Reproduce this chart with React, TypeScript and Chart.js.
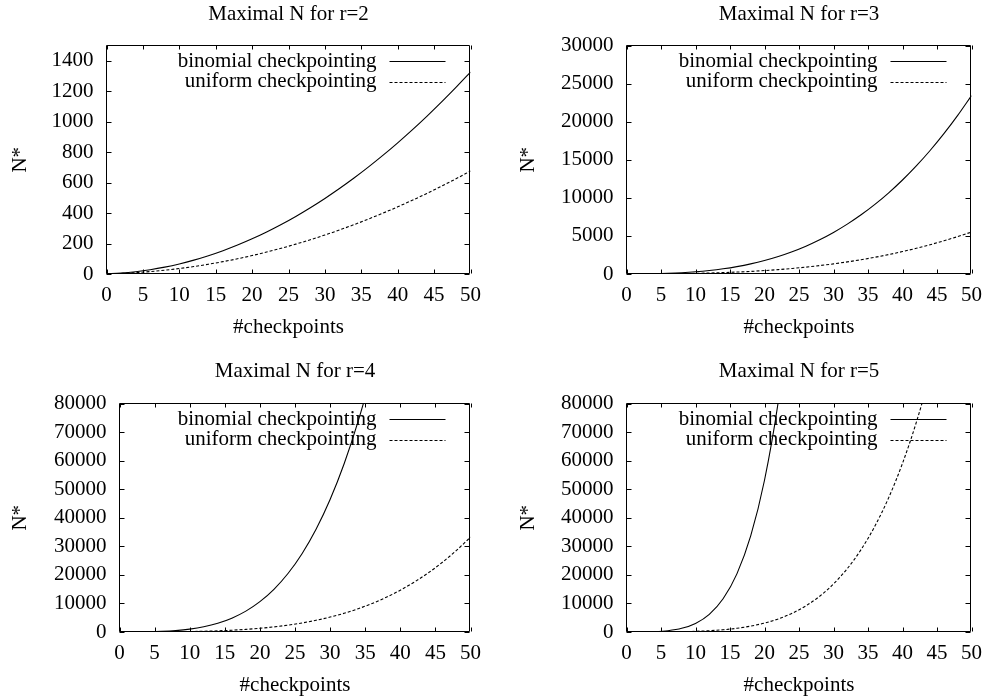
import React, { useEffect, useRef } from 'react';
import { Chart, registerables } from 'chart.js';

Chart.register(...registerables);

// ---------------- data ----------------
const checkpoints = [0, 2, 4, 6, 8, 10, 12, 14, 16, 18, 20, 22, 24, 26, 28, 30, 32, 34, 36, 38, 40, 42, 44, 46, 48, 50];

const binomialR2 = [1, 6, 15, 28, 45, 66, 91, 120, 153, 190, 231, 276, 325, 378, 435, 496, 561, 630, 703, 780, 861, 946, 1035, 1128, 1225, 1326];
const uniformR2 = [1, 4, 9, 16, 25, 36, 49, 64, 81, 100, 121, 144, 169, 196, 225, 256, 289, 324, 361, 400, 441, 484, 529, 576, 625, 676];

const binomialR3 = [1, 10, 35, 84, 165, 286, 455, 680, 969, 1330, 1771, 2300, 2925, 3654, 4495, 5456, 6545, 7770, 9139, 10660, 12341, 14190, 16215, 18424, 20825, 23426];
const uniformR3 = [1, 4.6, 12.7, 27, 49.3, 81.4, 125, 182, 254, 343, 450.6, 578.7, 729, 903.3, 1103.4, 1331, 1588, 1876, 2197, 2552.6, 2944.7, 3375, 3845.3, 4357.4, 4913, 5514];

const binomialR4 = [1, 15, 70, 210, 495, 1001, 1820, 3060, 4845, 7315, 10626, 14950, 20475, 27405, 35960, 46376, 58905, 73815, 91390, 111930, 135751, 163185, 194580, 230300, 270725, 316251];
const uniformR4 = [1, 5.1, 16, 39.1, 81, 150.1, 256, 410.1, 625, 915.1, 1296, 1785.1, 2401, 3164.1, 4096, 5220.1, 6561, 8145.1, 10000, 12155.1, 14641, 17490.1, 20736, 24414.1, 28561, 33215.1];

const binomialR5 = [1, 21, 126, 462, 1287, 3003, 6188, 11628, 20349, 33649, 53130, 80730, 118755, 169911, 237336, 324632, 435897, 575757, 749398, 962598, 1221759, 1533939, 1906884, 2349060, 2869685, 3478761];
const uniformR5 = [1, 5.4, 18.9, 51.5, 118.8, 243, 454.4, 792.4, 1306.9, 2059.6, 3125, 4591.6, 6563.6, 9161.3, 12523.3, 16807, 22190.1, 28871.7, 37074, 47042.7, 59049, 73390.4, 90392.1, 110408.1, 133822.6, 161051];

const panelTitles = ['Maximal N for r=2', 'Maximal N for r=3', 'Maximal N for r=4', 'Maximal N for r=5'];
const seriesLabels = ['binomial checkpointing', 'uniform checkpointing'];
const xAxisTitle = '#checkpoints';
const yAxisTitle = 'N*';
const xMin = 0;
const xMax = 50;
const xStep = 5;
const yMaxes = [1500, 30000, 80000, 80000];
const ySteps = [200, 5000, 10000, 10000];

const binomialSeries = [binomialR2, binomialR3, binomialR4, binomialR5];
const uniformSeries = [uniformR2, uniformR3, uniformR4, uniformR5];

// ---------------- layout (display px) ----------------
const FAMILY = "'Liberation Serif', 'Times New Roman', Times, serif";
const FS = 21;
const LH = FS * 1.2;

type Panel = {
  cx: number; cy: number; cw: number; ch: number;
  left: number; top: number; right: number; bottom: number;
  titleMid: number; xTitleMid: number; yTitleMid: number;
};

const panels: Panel[] = [
  { cx: 0, cy: 0, cw: 495, ch: 350, left: 106.5, top: 45.5, right: 470.5, bottom: 274, titleMid: 14.5, xTitleMid: 327, yTitleMid: 20 },
  { cx: 495, cy: 0, cw: 496, ch: 350, left: 131.5, top: 45.5, right: 483.5, bottom: 274, titleMid: 14.5, xTitleMid: 327, yTitleMid: 33.3 },
  { cx: 0, cy: 350, cw: 495, ch: 350, left: 119.5, top: 53.5, right: 470.5, bottom: 282, titleMid: 21.7, xTitleMid: 335, yTitleMid: 20 },
  { cx: 495, cy: 350, cw: 496, ch: 350, left: 131.5, top: 53.5, right: 483.5, bottom: 282, titleMid: 21.7, xTitleMid: 335, yTitleMid: 33.3 },
];

const framePlugin = {
  id: 'gnuFrame',
  afterDraw(chart: any) {
    const { ctx, chartArea } = chart;
    const l = Math.floor(chartArea.left) + 0.5;
    const r = Math.floor(chartArea.right) - 0.5;
    const t = Math.floor(chartArea.top) + 0.5;
    const b = Math.floor(chartArea.bottom) - 0.5;
    ctx.save();
    ctx.strokeStyle = '#000';
    ctx.lineWidth = 1;
    ctx.setLineDash([]);
    ctx.beginPath();
    ctx.rect(l, t, r - l, b - t);
    ctx.stroke();
    // inward tick marks on all four sides
    const xs = chart.scales.x;
    const ys = chart.scales.y;
    ctx.beginPath();
    xs.ticks.forEach((tk: any) => {
      const px = Math.round(xs.getPixelForValue(tk.value)) + 0.5;
      ctx.moveTo(px, b); ctx.lineTo(px, b - 4);
      ctx.moveTo(px, t); ctx.lineTo(px, t + 4);
    });
    ys.ticks.forEach((tk: any) => {
      const py = Math.round(ys.getPixelForValue(tk.value)) + 0.5;
      ctx.moveTo(l, py); ctx.lineTo(l + 5, py);
      ctx.moveTo(r, py); ctx.lineTo(r - 5, py);
    });
    ctx.stroke();
    // legend (gnuplot style: text right aligned, sample on the right)
    ctx.font = `${FS}px ${FAMILY}`;
    ctx.fillStyle = '#000';
    ctx.textAlign = 'right';
    ctx.textBaseline = 'middle';
    chart.data.datasets.forEach((ds: any, i: number) => {
      const y = chartArea.top + 15.5 + i * 20.5;
      ctx.fillText(ds.label, chartArea.right - 94, y);
      const ly = Math.round(y) + 0.5;
      ctx.beginPath();
      ctx.setLineDash(ds.borderDash || []);
      ctx.strokeStyle = ds.borderColor;
      ctx.lineWidth = 1;
      ctx.moveTo(chartArea.right - 81, ly);
      ctx.lineTo(chartArea.right - 25, ly);
      ctx.stroke();
    });
    ctx.restore();
  },
};

function PanelChart({ idx }: { idx: number }) {
  const ref = useRef<HTMLCanvasElement | null>(null);
  const p = panels[idx];
  useEffect(() => {
    if (!ref.current) return;
    const font = { family: FAMILY, size: FS, lineHeight: 1.2, weight: 'normal' };
    const mk = (ys: number[]) => checkpoints.map((x, i) => ({ x, y: ys[i] }));
    const plain = (v: any) => String(v);
    const chart = new Chart(ref.current, {
      type: 'line',
      data: {
        datasets: [
          {
            label: seriesLabels[0],
            data: mk(binomialSeries[idx]),
            borderColor: '#000',
            borderWidth: 1.1,
            pointRadius: 0,
            fill: false,
            cubicInterpolationMode: 'monotone',
          },
          {
            label: seriesLabels[1],
            data: mk(uniformSeries[idx]),
            borderColor: '#000',
            borderWidth: 1.1,
            borderDash: [3, 2],
            pointRadius: 0,
            fill: false,
            cubicInterpolationMode: 'monotone',
          },
        ],
      },
      options: {
        animation: false,
        responsive: false,
        devicePixelRatio: 1,
        layout: { padding: { left: 0, top: 0, right: p.cw - p.right, bottom: 0 } },
        plugins: {
          legend: { display: false },
          tooltip: { enabled: false },
          title: {
            display: true,
            text: panelTitles[idx],
            fullSize: false,
            color: '#000',
            font,
            padding: { top: p.titleMid - LH / 2, bottom: p.top - (p.titleMid - LH / 2) - LH },
          },
        },
        scales: {
          x: {
            type: 'linear',
            min: xMin,
            max: xMax,
            grid: { display: false, drawTicks: false },
            border: { display: false },
            ticks: { stepSize: xStep, padding: 9, color: '#000', font, maxRotation: 0, autoSkip: false, callback: plain },
            title: {
              display: true,
              text: xAxisTitle,
              color: '#000',
              font,
              padding: { top: 0, bottom: p.ch - LH / 2 - p.xTitleMid },
            },
            afterFit: (s: any) => { s.height = p.ch - p.bottom; },
          },
          y: {
            type: 'linear',
            min: 0,
            max: yMaxes[idx],
            grid: { display: false, drawTicks: false },
            border: { display: false },
            ticks: { stepSize: ySteps[idx], padding: 13, color: '#000', font, includeBounds: false, callback: plain },
            title: {
              display: true,
              text: yAxisTitle,
              color: '#000',
              font,
              padding: { top: p.yTitleMid - LH / 2, bottom: 0 },
            },
            afterFit: (s: any) => { s.width = p.left; },
          },
        },
      },
      plugins: [framePlugin],
    } as any);
    return () => chart.destroy();
  }, [idx]);
  return (
    <canvas
      ref={ref}
      width={p.cw}
      height={p.ch}
      style={{ position: 'absolute', left: p.cx, top: p.cy, width: p.cw, height: p.ch, display: 'block' }}
    />
  );
}

export default function App() {
  return (
    <div style={{ position: 'absolute', left: 0, top: 0, width: 991, height: 700, background: '#fff' }}>
      {panels.map((_, i) => (
        <PanelChart key={i} idx={i} />
      ))}
    </div>
  );
}
